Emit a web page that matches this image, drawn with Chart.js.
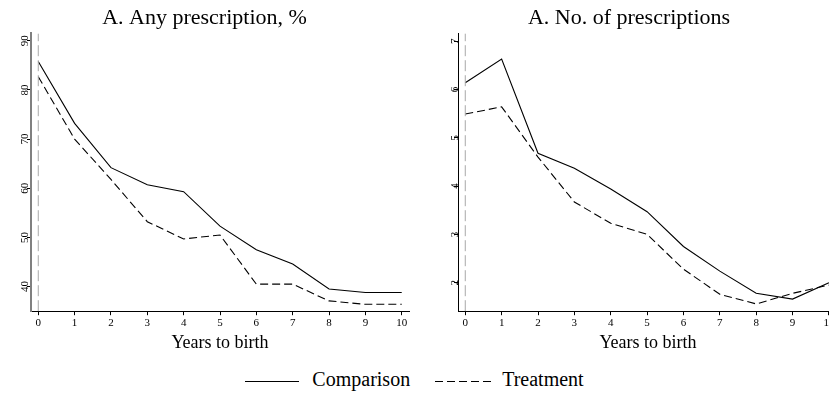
<!DOCTYPE html>
<html>
<head>
<meta charset="utf-8">
<script src="https://cdn.jsdelivr.net/npm/chart.js@4.4.1/dist/chart.umd.min.js"></script>
<style>
  body { margin: 0; width: 829px; height: 403px; overflow: hidden; background: #fff; position: relative;
         font-family: 'Liberation Serif', 'Times New Roman', serif; }
  #left { position: absolute; left: 0; top: 0; }
  #right { position: absolute; left: 420px; top: 0; }
  #legend { position: absolute; left: 0; top: 367px; width: 829px; text-align: center; font-size: 20px; color: #000; line-height: 24px; }
  #legend .sw { display: inline-block; height: 1px; vertical-align: middle; }
  #legend .solid { width: 54px; background: #000; margin-right: 13px; }
  #legend .dashed { width: 57px; margin-left: 25px; margin-right: 10px;
                    background: repeating-linear-gradient(to right, #000 0 8px, transparent 8px 12px); }
</style>
</head>
<body>
<canvas id="left" width="440" height="360"></canvas>
<canvas id="right" width="456" height="360"></canvas>
<div id="legend"><span class="sw solid"></span><span>Comparison</span><span class="sw dashed"></span><span>Treatment</span></div>

<script>
// Data
const years = [0, 1, 2, 3, 4, 5, 6, 7, 8, 9, 10];

// Panel 1: any prescription, %
const anyComparison = [85.8, 73.2, 64.2, 60.7, 59.3, 52.3, 47.5, 44.6, 39.5, 38.8, 38.8];
const anyTreatment  = [82.7, 70.0, 61.8, 53.2, 49.7, 50.5, 40.5, 40.5, 37.1, 36.4, 36.4];
const anyTicks = [40, 50, 60, 70, 80, 90];

// Panel 2: number of prescriptions
const numComparison = [6.14, 6.63, 4.68, 4.37, 3.94, 3.47, 2.75, 2.24, 1.78, 1.66, 2.0];
const numTreatment  = [5.49, 5.64, 4.60, 3.67, 3.23, 3.00, 2.28, 1.76, 1.56, 1.78, 1.95];
const numTicks = [2, 3, 4, 5, 6, 7];

const xTicks = years;
const serif = "'Liberation Serif', 'Times New Roman', serif";

function makeChart(id, title, comp, treat, yTicks, yMin, yMax, xMax, opts) {
    const ctx = document.getElementById(id);
    return new Chart(ctx, {
        type: 'line',
        data: {
            datasets: [
                {
                    // reference line at birth
                    data: [{ x: 0, y: yMin }, { x: 0, y: yMax }],
                    borderColor: '#a8a8a8',
                    borderWidth: 1,
                    borderDash: [11, 4],
                    pointRadius: 0
                },
                {
                    label: 'Comparison',
                    data: years.map((x, i) => ({ x: x, y: comp[i] })),
                    borderColor: '#000',
                    borderWidth: 1.1,
                    pointRadius: 0,
                    tension: 0
                },
                {
                    label: 'Treatment',
                    data: years.map((x, i) => ({ x: x, y: treat[i] })),
                    borderColor: '#000',
                    borderWidth: 1.1,
                    borderDash: [8, 4],
                    pointRadius: 0,
                    tension: 0
                }
            ]
        },
        options: {
            responsive: false,
            animation: false,
            layout: {
                padding: { left: 0, right: opts.padRight, top: 0, bottom: 2 }
            },
            plugins: {
                legend: { display: false },
                tooltip: { enabled: false },
                title: {
                    display: true,
                    text: title,
                    color: '#000',
                    font: { family: serif, size: 22, weight: 'normal' },
                    padding: { top: 5, bottom: 2 }
                }
            },
            scales: {
                x: {
                    type: 'linear',
                    min: -0.2,
                    max: xMax,
                    afterBuildTicks: s => { s.ticks = xTicks.map(v => ({ value: v })); },
                    ticks: {
                        color: '#000',
                        font: { family: serif, size: 11 },
                        maxRotation: 0,
                        padding: 1
                    },
                    grid: { drawOnChartArea: false, tickLength: 4, color: '#000' },
                    border: { color: '#000', width: 1 },
                    title: {
                        display: true,
                        text: 'Years to birth',
                        color: '#000',
                        font: { family: serif, size: 18 },
                        padding: { top: 2, bottom: 4 }
                    }
                },
                y: {
                    min: yMin,
                    max: yMax,
                    afterBuildTicks: s => { s.ticks = yTicks.map(v => ({ value: v })); },
                    afterFit: s => { s.width = opts.yWidth; },
                    ticks: {
                        color: '#000',
                        font: { family: serif, size: 11 },
                        minRotation: 90,
                        maxRotation: 90,
                        crossAlign: 'center',
                        padding: -4
                    },
                    grid: { drawOnChartArea: false, tickLength: 4, color: '#000' },
                    border: { color: opts.yBorder, width: opts.yBorderWidth }
                }
            }
        }
    });
}

makeChart('left', 'A. Any prescription, %', anyComparison, anyTreatment, anyTicks, 35, 91.5, 10.2,
    { padRight: 31, yWidth: 31, yBorder: '#808080', yBorderWidth: 2 });
makeChart('right', 'A. No. of prescriptions', numComparison, numTreatment, numTicks, 1.41, 7.16, 10.25,
    { padRight: 38, yWidth: 38, yBorder: '#000', yBorderWidth: 1 });
</script>
</body>
</html>
